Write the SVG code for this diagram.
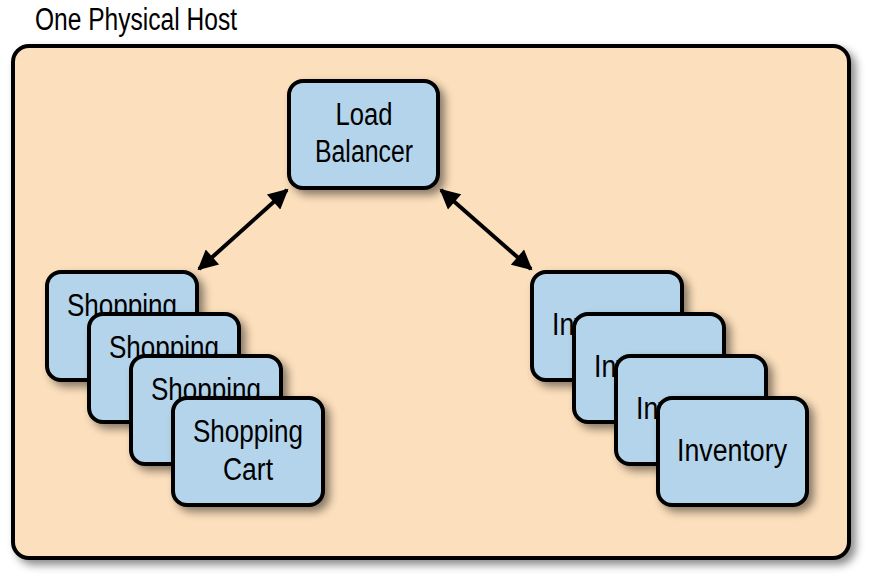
<svg xmlns="http://www.w3.org/2000/svg" width="883" height="582" viewBox="0 0 883 582">
<defs>
<filter id="sh" x="-20%" y="-20%" width="150%" height="150%">
<feDropShadow dx="5" dy="5" stdDeviation="4" flood-color="#000" flood-opacity="0.45"/>
</filter>
<marker id="ah" viewBox="0 0 10 10" refX="9" refY="5" markerWidth="5.5" markerHeight="5" orient="auto-start-reverse" markerUnits="strokeWidth">
<path d="M0,0 L10,5 L0,10 z" fill="#000"/>
</marker>
</defs>
<style>
.host{fill:#fcdfbc;stroke:#000;stroke-width:4}
.box{fill:#b3d4ea;stroke:#000;stroke-width:4}
text{font-family:"Liberation Sans",Arial,sans-serif;font-size:31px;fill:#000}
.c{text-anchor:middle}
.conn{stroke:#000;stroke-width:4;fill:none}
</style>
<rect width="883" height="582" fill="#fff"/>
<text x="35" y="30" textLength="202" lengthAdjust="spacingAndGlyphs">One Physical Host</text>
<g id="host"><rect class="host" x="13" y="46" width="836" height="512" rx="16" filter="url(#sh)"/></g>
<g id="lb"><rect class="box" x="289" y="81" width="149" height="107" rx="14" filter="url(#sh)"/>
<text class="c" x="364" y="125" textLength="57" lengthAdjust="spacingAndGlyphs">Load</text>
<text class="c" x="364" y="162" textLength="98" lengthAdjust="spacingAndGlyphs">Balancer</text></g>
<g id="cart1"><rect class="box" x="47" y="272" width="150" height="108" rx="14" filter="url(#sh)"/>
<text class="c" x="122" y="316" textLength="110" lengthAdjust="spacingAndGlyphs">Shopping</text></g>
<g id="cart2"><rect class="box" x="89" y="314" width="150" height="108" rx="14" filter="url(#sh)"/>
<text class="c" x="164" y="358" textLength="110" lengthAdjust="spacingAndGlyphs">Shopping</text></g>
<g id="cart3"><rect class="box" x="131" y="356" width="150" height="108" rx="14" filter="url(#sh)"/>
<text class="c" x="206" y="400" textLength="110" lengthAdjust="spacingAndGlyphs">Shopping</text></g>
<g id="cart4"><rect class="box" x="173" y="398" width="150" height="107" rx="14" filter="url(#sh)"/>
<text class="c" x="248" y="442" textLength="110" lengthAdjust="spacingAndGlyphs">Shopping</text>
<text class="c" x="248" y="480" textLength="50" lengthAdjust="spacingAndGlyphs">Cart</text></g>
<g id="inv1"><rect class="box" x="532" y="272" width="150" height="108" rx="14" filter="url(#sh)"/>
<text class="c" x="607" y="335" textLength="110" lengthAdjust="spacingAndGlyphs">Inventory</text></g>
<g id="inv2"><rect class="box" x="574" y="314" width="150" height="108" rx="14" filter="url(#sh)"/>
<text class="c" x="649" y="377" textLength="110" lengthAdjust="spacingAndGlyphs">Inventory</text></g>
<g id="inv3"><rect class="box" x="616" y="356" width="150" height="108" rx="14" filter="url(#sh)"/>
<text class="c" x="691" y="419" textLength="110" lengthAdjust="spacingAndGlyphs">Inventory</text></g>
<g id="inv4"><rect class="box" x="658" y="398" width="149" height="107" rx="14" filter="url(#sh)"/>
<text class="c" x="732" y="461" textLength="110" lengthAdjust="spacingAndGlyphs">Inventory</text></g>
<g id="connectors">
<line class="conn" x1="199" y1="269" x2="287" y2="190" marker-start="url(#ah)" marker-end="url(#ah)"/>
<line class="conn" x1="441" y1="190" x2="531" y2="269" marker-start="url(#ah)" marker-end="url(#ah)"/>
</g>
</svg>
